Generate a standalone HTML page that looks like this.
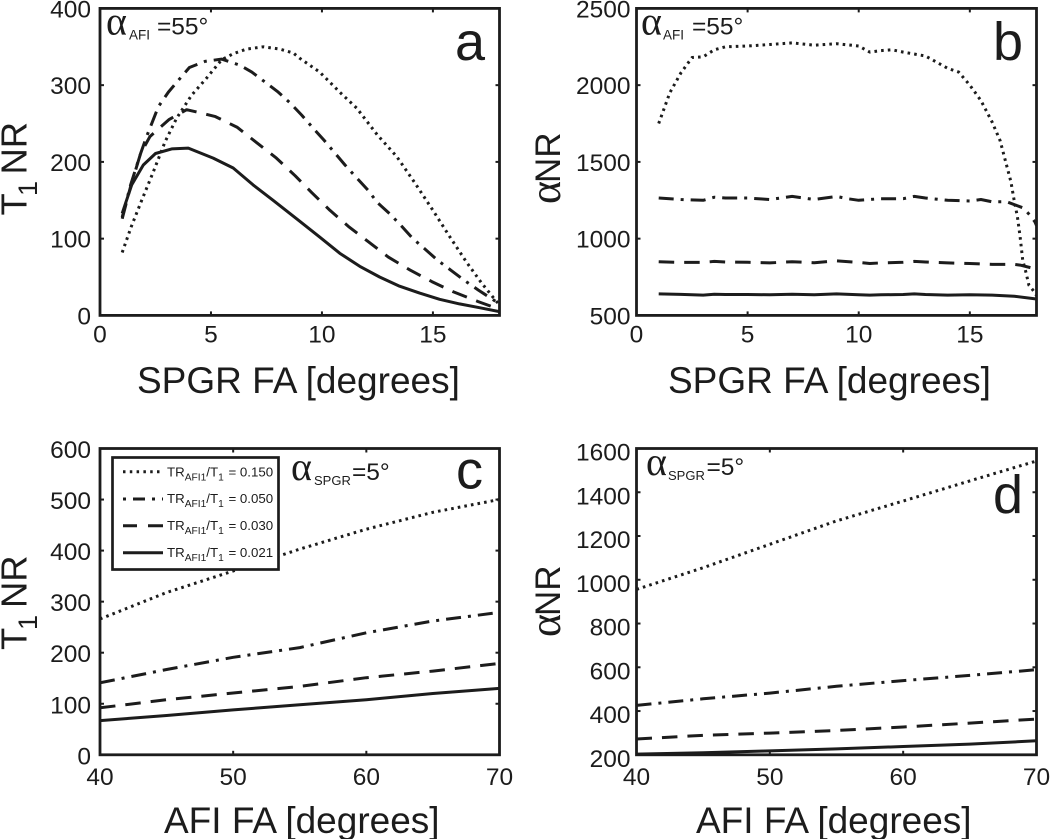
<!DOCTYPE html>
<html lang="en">
<head>
<meta charset="utf-8">
<title>T1NR and alphaNR panels</title>
<style>
html,body{margin:0;padding:0;background:#fff;}
body{width:1050px;height:839px;overflow:hidden;}
svg{display:block;filter:blur(0.35px);}
text{font-family:"Liberation Sans",sans-serif;fill:#1c1c1c;}
.alpha{font-family:"Liberation Serif",serif;}
</style>
</head>
<body>
<svg id="figure" width="1050" height="839" viewBox="0 0 1050 839" xmlns="http://www.w3.org/2000/svg">
  <g id="panels"></g>

  <g>
    <text x="137" y="393" font-size="37">SPGR FA [degrees]</text>
    <text transform="translate(26.5,215) rotate(-90)" font-size="36.4"><tspan x="-0.5">T</tspan><tspan font-size="27" x="19" dy="10.5">1</tspan><tspan x="40.5" dy="-10.5">NR</tspan></text>
    <text y="34.5" font-size="24.5"><tspan class="alpha" font-size="40" x="106">α</tspan><tspan font-size="13.5" x="129" dy="5">AFI</tspan><tspan x="157" dy="-5">=55°</tspan></text>
    <text x="455" y="60" font-size="54">a</text>
  </g>

  <g>
    <text x="668" y="393" font-size="37">SPGR FA [degrees]</text>
    <text transform="translate(560,206) rotate(-90)" font-size="35"><tspan class="alpha" font-size="44" x="2">α</tspan><tspan x="23">NR</tspan></text>
    <text y="34.5" font-size="24.5"><tspan class="alpha" font-size="40" x="641">α</tspan><tspan font-size="13.5" x="663" dy="5">AFI</tspan><tspan x="692" dy="-5">=55°</tspan></text>
    <text x="993" y="60" font-size="54">b</text>
  </g>

  <g>
    <text x="164" y="833" font-size="37">AFI FA [degrees]</text>
    <text transform="translate(26.5,650) rotate(-90)" font-size="36.4"><tspan x="0">T</tspan><tspan font-size="27" x="20" dy="10.5">1</tspan><tspan x="42" dy="-10.5">NR</tspan></text>
    <text y="480" font-size="24.5"><tspan class="alpha" font-size="40" x="291">α</tspan><tspan font-size="13" x="314" dy="5">SPGR</tspan><tspan x="352" dy="-5">=5°</tspan></text>
    <text x="456" y="488.5" font-size="54">c</text>
  </g>

  <g>
    <text x="696" y="833" font-size="37">AFI FA [degrees]</text>
    <text transform="translate(560,639) rotate(-90)" font-size="35"><tspan class="alpha" font-size="44" x="2">α</tspan><tspan x="23">NR</tspan></text>
    <text y="475" font-size="24.5"><tspan class="alpha" font-size="40" x="646">α</tspan><tspan font-size="13" x="668" dy="5">SPGR</tspan><tspan x="706.5" dy="-5">=5°</tspan></text>
    <text x="993" y="513" font-size="54">d</text>
  </g>

  <g>
    <rect x="112.5" y="457.5" width="166" height="112" fill="#fff" stroke="#1c1c1c" stroke-width="2.7"/>
    <g>
      <line x1="123" x2="163" y1="471.7" y2="471.7" stroke="#1c1c1c" stroke-width="3" stroke-dasharray="2.5 4.3"/>
      <text x="167" y="476.7" font-size="13.3">TR<tspan font-size="10.2" dy="4">AFI1</tspan><tspan dy="-4">/T</tspan><tspan font-size="10.2" dy="4">1</tspan><tspan dy="-4" dx="1"> = 0.150</tspan></text>
    </g>
    <g>
      <line x1="123" x2="163" y1="499" y2="499" stroke="#1c1c1c" stroke-width="3" stroke-dasharray="3 7 12 7 3 7"/>
      <text x="167" y="503" font-size="13.3">TR<tspan font-size="10.2" dy="4">AFI1</tspan><tspan dy="-4">/T</tspan><tspan font-size="10.2" dy="4">1</tspan><tspan dy="-4" dx="1"> = 0.050</tspan></text>
    </g>
    <g>
      <line x1="123" x2="163" y1="525.7" y2="525.7" stroke="#1c1c1c" stroke-width="3" stroke-dasharray="14 11 15"/>
      <text x="167" y="530" font-size="13.3">TR<tspan font-size="10.2" dy="4">AFI1</tspan><tspan dy="-4">/T</tspan><tspan font-size="10.2" dy="4">1</tspan><tspan dy="-4" dx="1"> = 0.030</tspan></text>
    </g>
    <g>
      <line x1="123" x2="163" y1="552.7" y2="552.7" stroke="#1c1c1c" stroke-width="3"/>
      <text x="167" y="557" font-size="13.3">TR<tspan font-size="10.2" dy="4">AFI1</tspan><tspan dy="-4">/T</tspan><tspan font-size="10.2" dy="4">1</tspan><tspan dy="-4" dx="1"> = 0.021</tspan></text>
    </g>
  </g>
</svg>

<script>
// Panel a: T1NR against SPGR flip angle
const aDottedX = [1,1.4,1.88,2.4,2.93,3.45,4.13,4.8,5.48,6,6.6,7.36,8.1,8.7,9,9.9,10.8,11.57,12.5,13.37,14.2,15,15.77,16.5,17.2,17.87,18];
const aDottedY = [82,115,150,187,226,257,287,309,333,341,347,350,347,342,335,317,291,270,235,207,172,137,102,70,42,18,14];
const aDashDotX = [1,1.38,1.83,2.1,2.63,3.08,3.55,4.03,4.73,5.48,6.3,6.84,7.44,8.03,8.56,9.09,9.6,10.1,10.6,11.04,11.57,12.08,12.5,13.07,13.6,14.1,14.7,15.2,15.85,16.45,17.05,18];
const aDashDotY = [128,170,211,233,272,291,307,323,331,334,326,317,304,291,277,261,244,228,211,196,179,163,147,132,116,100,85,72,58,45,33,15];
const aDashX = [1,1.38,1.83,2.25,3.1,3.9,4.36,5.2,6.19,7.06,7.95,8.79,9.54,10.36,11.19,12.09,12.99,13.97,14.95,15.9,17.04,18];
const aDashY = [126,168,211,233,255,268,265,259,245,225,205,182,160,137,116,96,76,59,44,31,18,8];
const aSolidX = [1,1.43,1.95,2.5,3.23,3.98,5.1,6,6.9,7.8,8.94,9.9,10.8,11.7,12.6,13.5,14.4,15.3,16.2,17.1,18];
const aSolidY = [133,170,196,211,217,218,205,192,170,150,124,102,81,64,50,38,29,21,15,10,5];

// Panel b: alphaNR against SPGR flip angle
const bDottedX = [1,1.5,2,2.5,3,3.5,4,5,6,7,8,9,10,10.5,11,11.5,12,13,14,14.5,15,15.5,16,16.36,16.85,16.99,17.14,17.26,17.38,17.53,17.66,17.84,18];
const bDottedY = [1750,1950,2080,2180,2185,2230,2250,2255,2265,2275,2260,2270,2255,2215,2225,2230,2215,2190,2110,2085,2000,1900,1760,1639,1371,1252,1143,1013,861,776,697,665,630];
const bDashDotX = [1,2,3,3.5,4,5,6,7,8,9,9.5,10,11,12,12.5,13,14,15,15.5,16,16.66,17.4,17.7,17.93,18];
const bDashDotY = [1265,1255,1250,1270,1265,1265,1255,1275,1255,1275,1260,1250,1260,1260,1275,1265,1250,1245,1255,1240,1240,1200,1154,1110,1085];
const bDashX = [1,2,3,3.5,4,5,6,7,8,9,10,10.5,11,12,12.5,13,14,15,16,17,17.26,17.85,18];
const bDashY = [850,845,845,852,848,846,842,850,843,855,845,838,842,846,852,848,842,838,832,832,828,807,795];
const bSolidX = [1,2,3,3.5,4,5,6,7,8,9,10,10.5,11,12,12.5,13,14,15,16,17,18];
const bSolidY = [640,637,632,638,636,636,634,638,634,640,635,632,634,636,640,636,632,634,632,625,607];

// Panels c and d: noise ratios against AFI flip angle
const afiAngles = [40,45,50,55,60,65,70];
const cDottedY = [266,318,360,403,442,475,500];
const cDashDotY = [141,167,191,210,239,262,279];
const cDashY = [92,108,121,134,151,164,179];
const cSolidY = [67,77,88,98,108,120,130];
const dDottedY = [956,1055,1162,1269,1360,1452,1543];
const dDashDotY = [426,456,482,513,539,563,589];
const dDashY = [272,289,299,311,327,345,363];
const dSolidY = [203,209,218,227,238,249,264];

// Tick labels
const spgrTicks = [0,5,10,15];
const afiTicks = [40,50,60,70];
const aYTicks = [0,100,200,300,400];
const bYTicks = [500,1000,1500,2000,2500];
const cYTicks = [0,100,200,300,400,500,600];
const dYTicks = [200,400,600,800,1000,1200,1400,1600];

const NS = 'http://www.w3.org/2000/svg';
const INK = '#1c1c1c';
const root = document.getElementById('panels');

const DASH = {
  dotted: '2.6 4.1',
  dashdot: '15 7 3 7',
  dashed: '15.5 10',
  solid: null
};

function make(parent, tag, attrs) {
  const el = document.createElementNS(NS, tag);
  for (const k in attrs) el.setAttribute(k, attrs[k]);
  parent.appendChild(el);
  return el;
}

function drawPanel(p) {
  const sx = v => p.left + (v - p.xMin) / (p.xMax - p.xMin) * (p.right - p.left);
  const sy = v => p.bottom - (v - p.yMin) / (p.yMax - p.yMin) * (p.bottom - p.top);

  const g = make(root, 'g', {});
  
  

  const clipId = 'clip-' + p.id;
  const clip = make(g, 'clipPath', {id: clipId});
  make(clip, 'rect', {x: p.left, y: p.top, width: p.right - p.left, height: p.bottom - p.top});

  p.series.forEach(s => {
    const pts = s.x.map((v, i) => sx(v).toFixed(1) + ',' + sy(s.y[i]).toFixed(1)).join(' ');
    const line = make(g, 'polyline', {
      points: pts, fill: 'none', stroke: INK, 'stroke-width': 3,
      'stroke-linejoin': 'round', 'clip-path': 'url(#' + clipId + ')'
    });
    if (DASH[s.style]) line.setAttribute('stroke-dasharray', DASH[s.style]);
    
    
  });

  p.xTicks.forEach(t => {
    const x = sx(t);
    const tickB = make(g, 'line', {x1: x, x2: x, y1: p.bottom, y2: p.bottom - 4, stroke: INK, 'stroke-width': 2});
    
    
    const tickT = make(g, 'line', {x1: x, x2: x, y1: p.top, y2: p.top + 4, stroke: INK, 'stroke-width': 2});
    
    
    const label = make(g, 'text', {x: x, y: p.xLabelY, 'text-anchor': 'middle', 'font-size': 24.5});
    
    
    label.textContent = t;
  });

  p.yTicks.forEach(t => {
    const y = sy(t);
    const tickL = make(g, 'line', {x1: p.left, x2: p.left + 4, y1: y, y2: y, stroke: INK, 'stroke-width': 2});
    
    
    const tickR = make(g, 'line', {x1: p.right, x2: p.right - 4, y1: y, y2: y, stroke: INK, 'stroke-width': 2});
    
    
    const label = make(g, 'text', {x: p.yLabelX, y: y + p.yLabelDy, 'text-anchor': 'end', 'font-size': 24.5});
    
    
    label.textContent = t;
  });

  const frame = make(g, 'rect', {
    x: p.left, y: p.top, width: p.right - p.left, height: p.bottom - p.top,
    fill: 'none', stroke: INK, 'stroke-width': 2.8
  });
  
  
}

drawPanel({
  id: 'a', left: 100, right: 499.5, top: 8.4, bottom: 315.4,
  xMin: 0, xMax: 18, yMin: 0, yMax: 400, xTicks: spgrTicks, yTicks: aYTicks,
  xLabelY: 342.5, yLabelX: 91, yLabelDy: 9,
  series: [
    {style: 'dotted', x: aDottedX, y: aDottedY},
    {style: 'dashdot', x: aDashDotX, y: aDashDotY},
    {style: 'dashed', x: aDashX, y: aDashY},
    {style: 'solid', x: aSolidX, y: aSolidY}
  ]
});
drawPanel({
  id: 'b', left: 636.5, right: 1036.5, top: 8.4, bottom: 315.4,
  xMin: 0, xMax: 18, yMin: 500, yMax: 2500, xTicks: spgrTicks, yTicks: bYTicks,
  xLabelY: 342.5, yLabelX: 630.5, yLabelDy: 9,
  series: [
    {style: 'dotted', x: bDottedX, y: bDottedY},
    {style: 'dashdot', x: bDashDotX, y: bDashDotY},
    {style: 'dashed', x: bDashX, y: bDashY},
    {style: 'solid', x: bSolidX, y: bSolidY}
  ]
});
drawPanel({
  id: 'c', left: 100, right: 499.5, top: 448.5, bottom: 754.8,
  xMin: 40, xMax: 70, yMin: 0, yMax: 600, xTicks: afiTicks, yTicks: cYTicks,
  xLabelY: 785, yLabelX: 91, yLabelDy: 9.5,
  series: [
    {style: 'dotted', x: afiAngles, y: cDottedY},
    {style: 'dashdot', x: afiAngles, y: cDashDotY},
    {style: 'dashed', x: afiAngles, y: cDashY},
    {style: 'solid', x: afiAngles, y: cSolidY}
  ]
});
drawPanel({
  id: 'd', left: 636.5, right: 1036.5, top: 448.5, bottom: 754.8,
  xMin: 40, xMax: 70, yMin: 200, yMax: 1600, xTicks: afiTicks, yTicks: dYTicks,
  xLabelY: 785, yLabelX: 630.5, yLabelDy: 12,
  series: [
    {style: 'dotted', x: afiAngles, y: dDottedY},
    {style: 'dashdot', x: afiAngles, y: dDashDotY},
    {style: 'dashed', x: afiAngles, y: dDashY},
    {style: 'solid', x: afiAngles, y: dSolidY}
  ]
});
</script>
</body>
</html>
